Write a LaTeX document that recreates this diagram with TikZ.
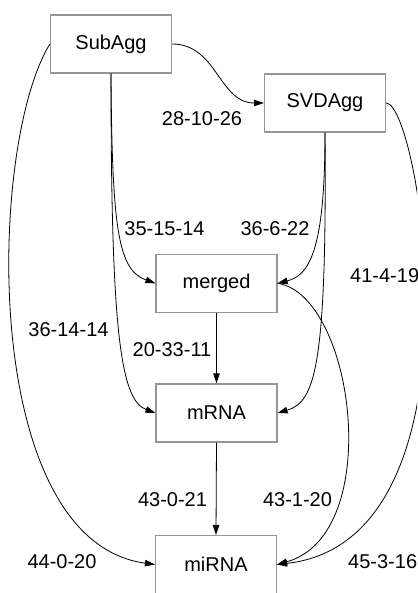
\documentclass[tikz,border=0pt]{standalone}
\usepackage{fontspec}
\setmainfont{Liberation Sans}
\usetikzlibrary{arrows.meta}
\definecolor{boxgray}{RGB}{150,150,150}
\tikzset{flowfig/.style={x=1pt,y=1pt,>={Triangle[length=10pt,width=6.5pt]},font=\fontsize{20}{24}\selectfont},
  stage/.style={draw=boxgray,line width=1.2pt,minimum width=121pt,minimum height=58pt,inner sep=0pt},
  flow/.style={->,line width=0.8pt},
  cnt/.style={inner sep=0pt}}

\begin{document}
\begin{tikzpicture}[flowfig]
    \useasboundingbox (0,0) rectangle (417,-593);
    \clip (0,0) rectangle (417,-593);
    % stages
    \node[stage] (sub)    at (111,-44)     {SubAgg};
    \node[stage] (svd)    at (325,-103)    {SVDAgg};
    \node[stage] (merged) at (216.5,-283.3) {merged};
    \node[stage] (mrna)   at (216.5,-413)  {mRNA};
    \node[stage] (mirna)  at (216,-564.5)  {miRNA};
    % edges
    \draw[flow] (sub.east) .. controls +(45,0) and +(-45,0) .. (svd.west);
    \draw[flow] (sub.south) .. controls +(1,-157) and +(-37,13) .. (merged.west);
    \draw[flow] (sub.south) .. controls +(0,-257) and +(-35,13) .. (mrna.west);
    \draw[flow] (sub.west) .. controls +(-62,-100) and +(-176,24) .. (mirna.west);
    \draw[flow] (svd.south) .. controls +(0,-117) and +(32,8) .. (merged.east);
    \draw[flow] (svd.south) .. controls +(2,-237) and +(37,11) .. (mrna.east);
    \draw[flow] (svd.east) .. controls +(34,0) and +(213,24) .. (mirna.east);  % leaves the frame
    \draw[flow] (merged.east) .. controls +(77,-12) and +(108,30) .. (mirna.east);
    \draw[flow] (merged.south) -- (mrna.north);
    \draw[flow] (mrna.south) -- (mirna.north);
    % counts
    \node[cnt] (c-sub-svd)    at (202,-118.5) {28-10-26};
    \node[cnt] (c-sub-merged) at (164.5,-228.5) {35-15-14};
    \node[cnt] (c-svd-merged) at (275,-229) {36-6-22};
    \node[cnt] (c-sub-mrna)   at (68.5,-330) {36-14-14};
    \node[cnt] (c-merged-mrna) at (172,-349.5) {20-33-11};
    \node[cnt,anchor=west] (c-svd-mrna) at (350,-276) {41-4-19};
    \node[cnt] (c-mrna-mirna) at (172.5,-500) {43-0-21};
    \node[cnt] (c-merged-mirna) at (297.5,-500) {43-1-20};
    \node[cnt] (c-sub-mirna)  at (62,-562) {44-0-20};
    \node[cnt,anchor=west] (c-svd-mirna) at (348,-562) {45-3-16};
\end{tikzpicture}
\end{document}
